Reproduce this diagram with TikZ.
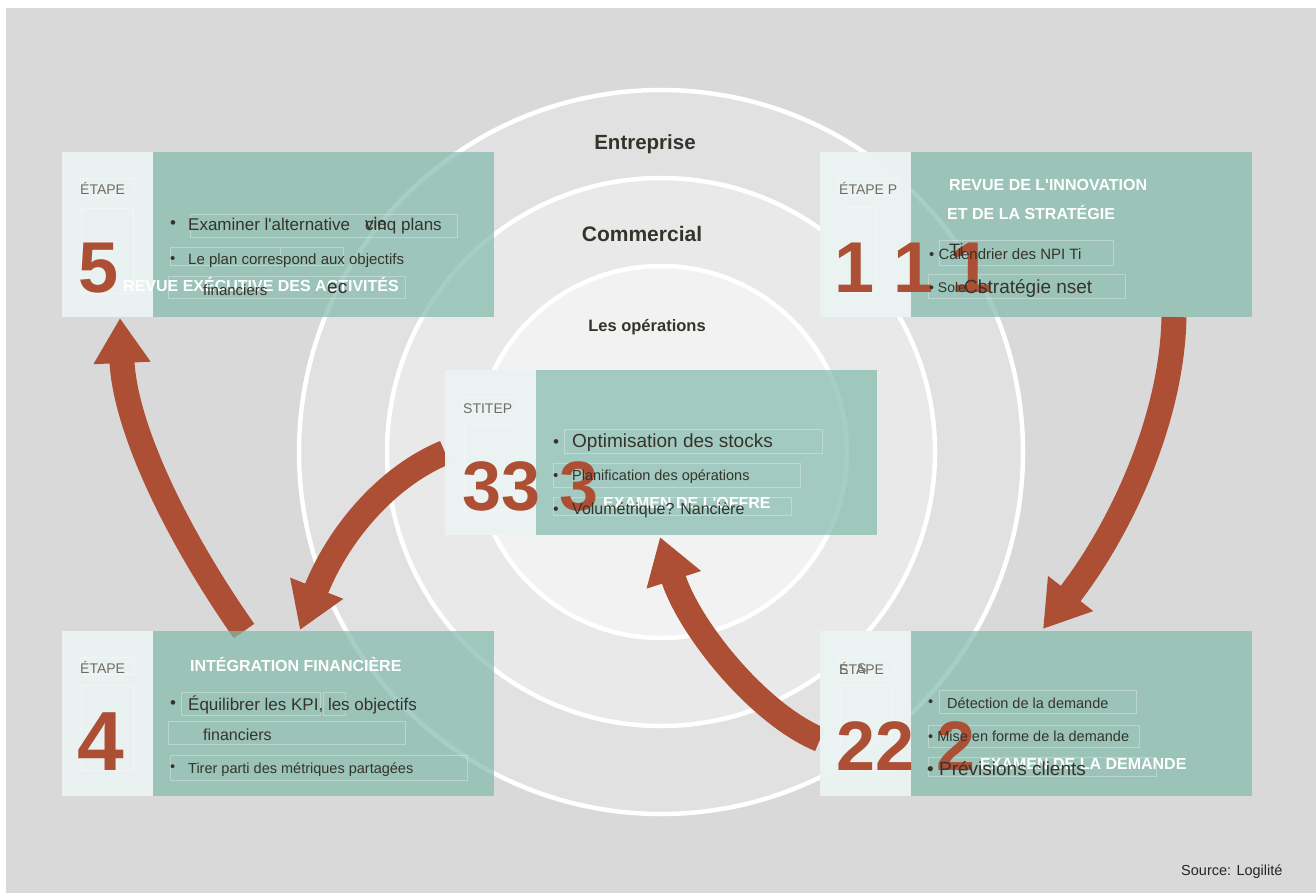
\documentclass[tikz,border=0pt]{standalone}
\usepackage{fontspec}
\setmainfont{Liberation Sans}
\usetikzlibrary{arrows.meta}

\definecolor{bggray}{HTML}{D9D9D9}
\definecolor{ringout}{HTML}{E1E1E1}
\definecolor{ringmid}{HTML}{E9E9E9}
\definecolor{ringin}{HTML}{F2F2F2}
\definecolor{panelteal}{RGB}{129,186,171}
\definecolor{tablight}{HTML}{F3F8F8}
\definecolor{rust}{HTML}{AD4F35}
\definecolor{ink}{HTML}{35342C}
\definecolor{stepgray}{HTML}{706C63}

\newcommand\fsz[1]{\fontsize{#1}{#1}\selectfont}

\pgfdeclarelayer{back}
\pgfdeclarelayer{mid}
\pgfsetlayers{back,mid,main}

\begin{document}
\begin{tikzpicture}[
  x=1pt, y=-1pt,
  ring/.style={draw=white, line width=4.5pt},
  panel/.style={fill=panelteal, fill opacity=.7, inner sep=0, outer sep=0,
    minimum width=432pt, minimum height=165pt, anchor=north west},
  tab/.style={fill=tablight, fill opacity=.9, inner sep=0, outer sep=0,
    minimum width=91pt, minimum height=165pt, anchor=north west},
  frm/.style={draw=white, draw opacity=.3, line width=.6pt},
  txt/.style={inner sep=0, anchor=base west, text=ink, font=\fsz{#1}},
  steplbl/.style={inner sep=0, anchor=base west, text=stepgray, font=\fsz{14}},
  bignum/.style={inner sep=0, anchor=base west, text=rust, font=\bfseries\fsz{#1}},
  head/.style={inner sep=0, anchor=base west, text=white, font=\bfseries\fsz{16}},
  ringlbl/.style={inner sep=0, anchor=base, text=ink, font=\bfseries\fsz{#1}},
  flow/.style={draw=rust, line width=25pt, -{Triangle[length=45pt,width=54pt]}}
  ]

  \useasboundingbox (0,0) rectangle (1316,893);

  % background and the three rings
  \begin{pgfonlayer}{back}
    \fill[white] (0,0) rectangle (1316,893);
    \fill[bggray] (6,8) rectangle (1316,893);
    \fill[ringout] (661,452) circle[radius=362pt];
    \fill[ringmid] (661,452) circle[radius=274pt];
    \fill[ringin] (661,452) circle[radius=186pt];
    \foreach \r in {362,274,186}
      \draw[ring] (661,452) circle[radius=\r pt];
    \draw[frm] (586,311) -- (736,311);
  \end{pgfonlayer}

  \node[ringlbl=20.5] (ent) at (645,150) {Entreprise};
  \node[ringlbl=21] (com) at (642,241) {Commercial};
  \node[ringlbl=16.5] (ops) at (647,331) {Les opérations};

  % the five step panels
  \node[panel] (s5) at (62,152) {};
  \node[tab] (t5) at (s5.north west) {};
  \node[panel] (s1) at (820,152) {};
  \node[tab] (t1) at (s1.north west) {};
  \node[panel] (s3) at (445,370) {};
  \node[tab] (t3) at (s3.north west) {};
  \node[panel] (s4) at (62,631) {};
  \node[tab] (t4) at (s4.north west) {};
  \node[panel] (s2) at (820,631) {};
  \node[tab] (t2) at (s2.north west) {};

  % faint text frames
  \draw[frm] (80,178) rectangle (134,195) (81,208) rectangle (133,293)
    (190,214) rectangle (457,237) (170,247) rectangle (280,265)
    (280,247) rectangle (343,265) (168,276) rectangle (405,298);
  \draw[frm] (838,178) rectangle (898,195) (842,207) rectangle (876,292)
    (939,240) rectangle (1113,265) (928,274) rectangle (1125,298);
  \draw[frm] (463,397) rectangle (518,413) (464,425) rectangle (517,510)
    (564,429) rectangle (822,453) (553,463) rectangle (800,487)
    (553,497) rectangle (791,515);
  \draw[frm] (80,657) rectangle (134,674) (81,685) rectangle (133,770)
    (181,692) rectangle (320,715) (323,692) rectangle (345,715)
    (168,721) rectangle (405,744) (170,755) rectangle (467,780);
  \draw[frm] (838,657) rectangle (894,674) (840,685) rectangle (891,770)
    (939,690) rectangle (1136,713) (928,725) rectangle (1139,747)
    (928,757) rectangle (1156,776);

  % cycle arrows
  \begin{pgfonlayer}{mid}
    \draw[flow] ([xshift=354pt]s1.south west) .. controls (1172,420) and (1120,530) .. ([xshift=223pt,yshift=2pt]s2.north west);
    \draw[flow] ([yshift=-26pt]s2.west) .. controls (760,715) and (690,630) .. ([xshift=215pt,yshift=-2pt]s3.south west);
    \draw[flow] (s3.west) .. controls (390,475) and (340,530) .. ([xshift=238pt,yshift=1pt]s4.north west);
    \draw[flow] ([xshift=182pt]s4.north west) .. controls (180,540) and (125,430) .. ([xshift=58pt,yshift=-1pt]s5.south west);
  \end{pgfonlayer}

  % step 5
  \node[steplbl] (l5) at (80,195) {ÉTAPE};
  \node[bignum=72] (n5) at (78,292) {5};
  \node[head] (h5) at (123,291) {REVUE EXÉCUTIVE DES ACTIVITÉS};
  \node[txt=17] (b5a) at (170,229) {•};
  \node[txt=17] (i5a) at (188,231) {Examiner l\textquotesingle alternative};
  \node[txt=17] (i5b) at (365,231) {cinq plans};
  \node[txt=17] (i5c) at (365,230) {vie};
  \node[txt=15] (b5b) at (170,263) {•};
  \node[txt=15] (i5d) at (188,265) {Le plan correspond aux objectifs};
  \node[txt=15] (i5e) at (203,295) {financiers};
  \node[txt=19] (i5f) at (327,293) {ec};

  % step 1
  \node[steplbl] (l1) at (839,195) {ÉTAPE P};
  \node[bignum=72, anchor=base] (n1a) at (855,292) {1};
  \node[bignum=72, anchor=base] (n1b) at (914,292) {1};
  \node[bignum=72, anchor=base] (n1c) at (972,292) {1};
  \node[head] (h1a) at (949,191) {REVUE DE L\textquotesingle INNOVATION};
  \node[head] (h1b) at (947,220) {ET DE LA STRATÉGIE};
  \node[txt=15] (i1a) at (929,259) {• Calendrier des NPI Ti};
  \node[txt=18] (i1b) at (949,257) {Ti};
  \node[txt=14] (i1c) at (929,292) {• Sole};
  \node[txt=19] (i1d) at (964,293) {Cl};
  \node[txt=19] (i1e) at (978,293) {stratégie nset};

  % step 3
  \node[steplbl] (l3) at (463,413) {STITEP};
  \node[bignum=70] (n3a) at (462,510) {33};
  \node[bignum=70] (n3b) at (559,510) {3};
  \node[head] (h3) at (603,508) {EXAMEN DE L\textquotesingle OFFRE};
  \node[txt=17] (b3a) at (553,447) {•};
  \node[txt=19] (i3a) at (572,447) {Optimisation des stocks};
  \node[txt=15] (b3b) at (553,480) {•};
  \node[txt=14.5] (i3b) at (572,480) {Planification des opérations};
  \node[txt=16] (b3c) at (553,514) {•};
  \node[txt=16] (i3c) at (572,514) {Volumétrique? Nancière};

  % step 4
  \node[steplbl] (l4) at (80,673) {ÉTAPE};
  \node[bignum=84] (n4) at (77,770) {4};
  \node[head] (h4) at (190,671) {INTÉGRATION FINANCIÈRE};
  \node[txt=17] (b4a) at (170,708) {•};
  \node[txt=17] (i4a) at (188,710) {Équilibrer les KPI, les objectifs};
  \node[txt=16] (i4b) at (203,740) {financiers};
  \node[txt=14.5] (b4b) at (170,771) {•};
  \node[txt=14.5] (i4c) at (188,773) {Tirer parti des métriques partagées};

  % step 2
  \node[steplbl] (l2) at (839,674) {ÉTAPE};
  \node[steplbl] (l2s) at (839,674) {S};
  \node[steplbl] (l2t) at (857,673) {S};
  \node[bignum=70] (n2a) at (836,770) {22};
  \node[bignum=70] (n2b) at (936,770) {2};
  \node[head] (h2) at (980,769) {EXAMEN DE LA DEMANDE};
  \node[txt=14.5] (b2a) at (928,706) {•};
  \node[txt=14.5] (i2a) at (947,708) {Détection de la demande};
  \node[txt=14.5] (i2b) at (928,741) {• Mise en forme de la demande};
  \node[txt=19] (i2c) at (927,775) {• Prévisions clients};

  \node[inner sep=0, anchor=base west, text=black!85, font=\fsz{14.5}] (src) at (1181,875) {Source: Logilité};

\end{tikzpicture}
\end{document}
